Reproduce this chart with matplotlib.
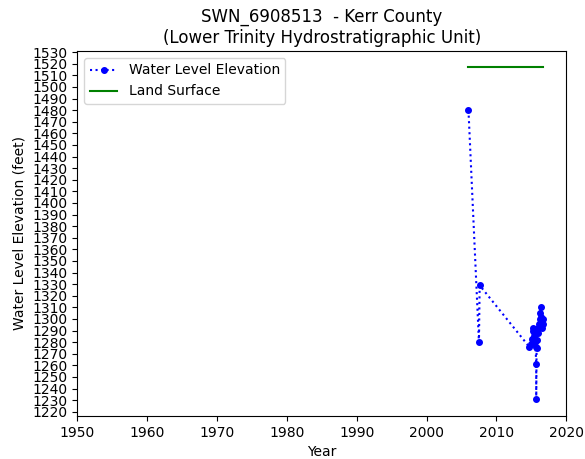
import matplotlib
matplotlib.use('Agg')
import matplotlib.pyplot as plt

# water level measurements (decimal year, elevation in feet)
years = [2006.0, 2007.5, 2007.6, 2014.7, 2014.9, 2015.1, 2015.2, 2015.3, 2015.4,
         2015.5, 2015.6, 2015.7, 2015.7, 2015.75, 2015.8, 2015.9, 2016.0, 2016.1,
         2016.2, 2016.3, 2016.35, 2016.4, 2016.5, 2016.55, 2016.6, 2016.65]
levels = [1480, 1280, 1329, 1276, 1278, 1283, 1290, 1292, 1285,
          1280, 1276, 1261, 1231, 1275, 1282, 1288, 1292, 1296,
          1300, 1305, 1310, 1302, 1298, 1292, 1296, 1300]

land_years = [2006.0, 2016.65]
land_level = [1517, 1517]

yticks = list(range(1220, 1531, 10))
xticks = list(range(1950, 2021, 10))

fig = plt.figure(figsize=(5.85, 4.59), dpi=100)
ax = fig.add_axes([0.132, 0.094, 0.836, 0.795])

ax.plot(years, levels, color='blue', linestyle=':', marker='o', markersize=4,
        label='Water Level Elevation')
ax.plot(land_years, land_level, color='green', label='Land Surface')

ax.set_xlim(1950, 2020)
ax.set_ylim(1216.5, 1531)
ax.set_xticks(xticks)
ax.set_yticks(yticks)
ax.set_xlabel('Year')
ax.set_ylabel('Water Level Elevation (feet)')
ax.set_title('SWN_6908513  - Kerr County\n(Lower Trinity Hydrostratigraphic Unit)')
ax.legend(loc='upper left')

fig.savefig('out.png')
